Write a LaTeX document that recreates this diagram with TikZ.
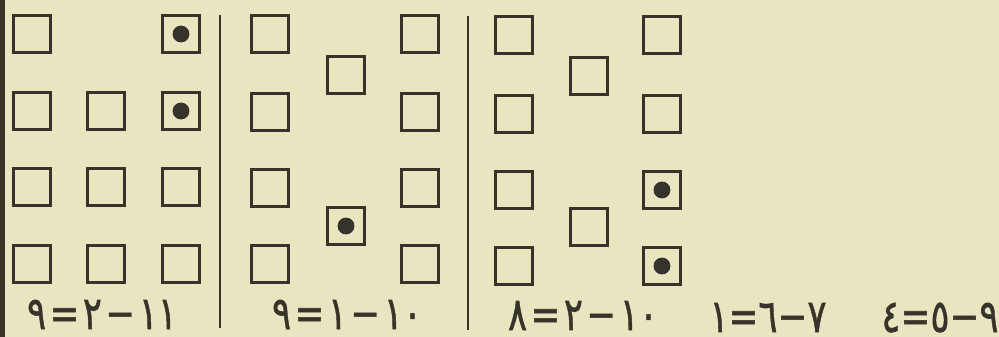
\documentclass[tikz,border=0pt]{standalone}
\usepackage{graphicx}
\usepackage{fontspec}
\newfontfamily\arabicfont[Script=Arabic, FakeBold=1.2]{DejaVu Sans}
\TeXXeTstate=1
\definecolor{subPaper}{HTML}{E8E6C0}
\definecolor{subInk}{HTML}{37332A}
\newcommand{\subsum}[1]{\scalebox{0.78}[1]{\beginR#1\endR}}
\tikzset{
  sub box/.style={draw=subInk, line width=1.6pt, minimum size=0.73cm, inner sep=0pt},
  sub rule/.style={draw=subInk, line width=1.3pt},
  sub dot/.style={fill=subInk},
  sub label/.style={font=\arabicfont\fontsize{26}{28}\selectfont, text=subInk, inner sep=0pt, text depth=0pt, anchor=base},
}

\begin{document}
\begin{tikzpicture}[x=0.02cm,y=-0.02cm]
  \fill[subPaper] (0,0) rectangle (999,337);
  \useasboundingbox (0,0) rectangle (999,337);
  % dark page edge on the left
  \fill[subInk] (0,0) rectangle (5,337);
  % First group: full columns, one box missing top middle
  \foreach \r/\y in {1/34,2/111,3/187,4/264} {
    \node[sub box] (a1\r) at (32,\y) {};
    \node[sub box] (a3\r) at (181,\y) {};
  }
  \foreach \r/\y in {2/111,3/187,4/264}
    \node[sub box] (a2\r) at (106,\y) {};
  \fill[sub dot] (a31) circle (4.8pt);
  \fill[sub dot] (a32) circle (4.8pt);
  % Second group: outer columns and two boxes in between
  \foreach \r/\y in {1/34,2/112,3/188,4/264} {
    \node[sub box] (b1\r) at (270,\y) {};
    \node[sub box] (b3\r) at (420,\y) {};
  }
  \node[sub box] (b2u) at (346,75) {};
  \node[sub box] (b2d) at (346,226) {};
  \fill[sub dot] (b2d) circle (4.8pt);
  % Third group
  \foreach \r/\y in {1/35,2/114,3/190,4/266} {
    \node[sub box] (c1\r) at (514,\y) {};
    \node[sub box] (c3\r) at (662,\y) {};
  }
  \node[sub box] (c2u) at (589,76) {};
  \node[sub box] (c2d) at (589,227) {};
  \fill[sub dot] (c33) circle (4.8pt);
  \fill[sub dot] (c34) circle (4.8pt);
  % Separating rules
  \coordinate (s1t) at (220,15);
  \coordinate (s1b) at (220,328);
  \coordinate (s2t) at (468,16);
  \coordinate (s2b) at (468,330);
  \draw[sub rule] (s1t) -- (s1b);
  \draw[sub rule] (s2t) -- (s2b);
  % Subtractions
  \node[sub label] (la) at (102,329) {\subsum{\beginL١١\endL\kern2.5pt−\kern2.5pt٢\kern2.5pt=\kern2.5pt٩}};
  \node[sub label] (lb) at (347,329) {\subsum{\beginL١٠\endL\kern2.5pt−\kern2.5pt١\kern2.5pt=\kern2.5pt٩}};
  \node[sub label] (lc) at (583,330) {\subsum{\beginL١٠\endL\kern2.5pt−\kern2.5pt٢\kern2.5pt=\kern2.5pt٨}};
  \node[sub label] (ld) at (768,332) {\subsum{٧−٦=١}};
  \node[sub label] (le) at (940,332) {\subsum{٩−٥=٤}};
\end{tikzpicture}
\end{document}
